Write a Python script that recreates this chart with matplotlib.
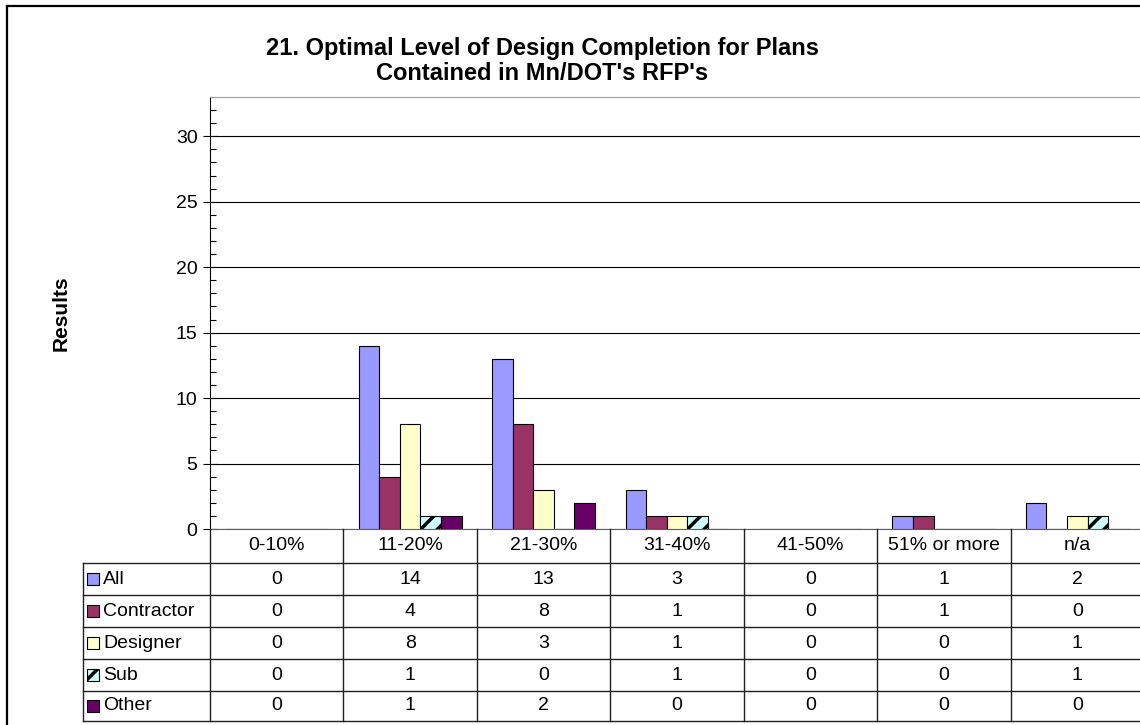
import matplotlib
matplotlib.use('Agg')
import matplotlib.pyplot as plt
import matplotlib.transforms as mtransforms
from matplotlib.patches import Rectangle
from matplotlib.lines import Line2D
import numpy as np

plt.rcParams['font.family'] = ['Liberation Sans', 'DejaVu Sans']
plt.rcParams['hatch.linewidth'] = 2.5
plt.rcParams['hatch.color'] = 'black'

# data
categories = ['0-10%', '11-20%', '21-30%', '31-40%', '41-50%', '51% or more', 'n/a']
series = ['All', 'Contractor', 'Designer', 'Sub', 'Other']
all_vals = [0, 14, 13, 3, 0, 1, 2]
contractor_vals = [0, 4, 8, 1, 0, 1, 0]
designer_vals = [0, 8, 3, 1, 0, 0, 1]
sub_vals = [0, 1, 0, 1, 0, 0, 1]
other_vals = [0, 1, 2, 0, 0, 0, 0]
values = [all_vals, contractor_vals, designer_vals, sub_vals, other_vals]
colors = ['#9999FF', '#993366', '#FFFFCC', '#CCFFFF', '#660066']
hatches = [None, None, None, '//', None]

W, H = 1140, 725
fig = plt.figure(figsize=(W / 100, H / 100), dpi=100)
fig.patch.set_facecolor('white')

def fx(px):
    return px / W

def fy(py):
    return 1 - py / H

# plot area in pixels
left, right, top, bottom = 210, 1144, 97, 529
ax = fig.add_axes([fx(left), fy(bottom), fx(right - left), (bottom - top) / H])

n = len(categories)
x = np.arange(n)
bw = 0.154
for k, (name, vals) in enumerate(zip(series, values)):
    ax.bar(x + (k - 2) * bw, vals, width=bw, color=colors[k], edgecolor='black',
           linewidth=0.8, hatch=hatches[k], zorder=3, label=name)

ax.set_xlim(-0.5, n - 0.5)
ax.set_ylim(0, 33)
ax.set_yticks(range(0, 31, 5))
ax.set_yticks(range(0, 34), minor=True)
ax.set_xticks([])
ax.yaxis.grid(True, color='black', linewidth=0.8, zorder=0)
ax.tick_params(axis='y', which='major', direction='inout', length=10, width=0.8,
               labelsize=14, pad=4)
ax.tick_params(axis='y', which='minor', direction='in', length=4, width=0.8)
ax.spines['right'].set_visible(False)
ax.spines['top'].set_color('#a0a0a0')
ax.spines['left'].set_color('black')
ax.spines['bottom'].set_color('#606060')

# axis title
fig.text(fx(61), fy(313), 'Results', rotation=90, ha='center', va='center',
         fontsize=15, fontweight='bold')

# chart title
fig.text(fx(542), fy(61), "21. Optimal Level of Design Completion for Plans\nContained in Mn/DOT's RFP's",
         ha='center', va='center', fontsize=17, fontweight='bold', linespacing=1.1)

# data table below the plot
bt = mtransforms.blended_transform_factory(ax.transData, fig.transFigure)
row_lines = [529, 563, 595, 627, 659, 691, 721]
tab_left = 83
lc = '#202020'
# vertical column separators
for i in range(n + 1):
    fig.add_artist(Line2D([i - 0.5, i - 0.5], [fy(529), fy(721)], transform=bt,
                          color=lc, linewidth=1))
# legend column left border
fig.add_artist(Line2D([fx(tab_left), fx(tab_left)], [fy(563), fy(721)],
                      transform=fig.transFigure, color=lc, linewidth=1))
# horizontal rows
for r in row_lines[1:]:
    fig.add_artist(Line2D([fx(tab_left), 1], [fy(r), fy(r)],
                          transform=fig.transFigure, color=lc, linewidth=1))

# header labels
for i, c in enumerate(categories):
    fig.text(i, fy((529 + 563) / 2), c, transform=bt, ha='center', va='center', fontsize=14)

for k, (name, vals) in enumerate(zip(series, values)):
    yc = (row_lines[k + 1] + row_lines[k + 2]) / 2
    fig.add_artist(Rectangle((fx(87), fy(yc + 6)), fx(12), 12 / H, transform=fig.transFigure,
                             facecolor=colors[k], edgecolor='black', linewidth=0.8,
                             hatch=hatches[k]))
    fig.text(fx(103), fy(yc), name, ha='left', va='center', fontsize=14)
    for i, v in enumerate(vals):
        fig.text(i, fy(yc), str(v), transform=bt, ha='center', va='center', fontsize=14)

# outer chart border
fig.add_artist(Line2D([fx(7), fx(7)], [fy(6), 0], transform=fig.transFigure, color='black', linewidth=1.6))
fig.add_artist(Line2D([fx(7), 1], [fy(6), fy(6)], transform=fig.transFigure, color='black', linewidth=1.6))

fig.savefig('out.png', dpi=100)
